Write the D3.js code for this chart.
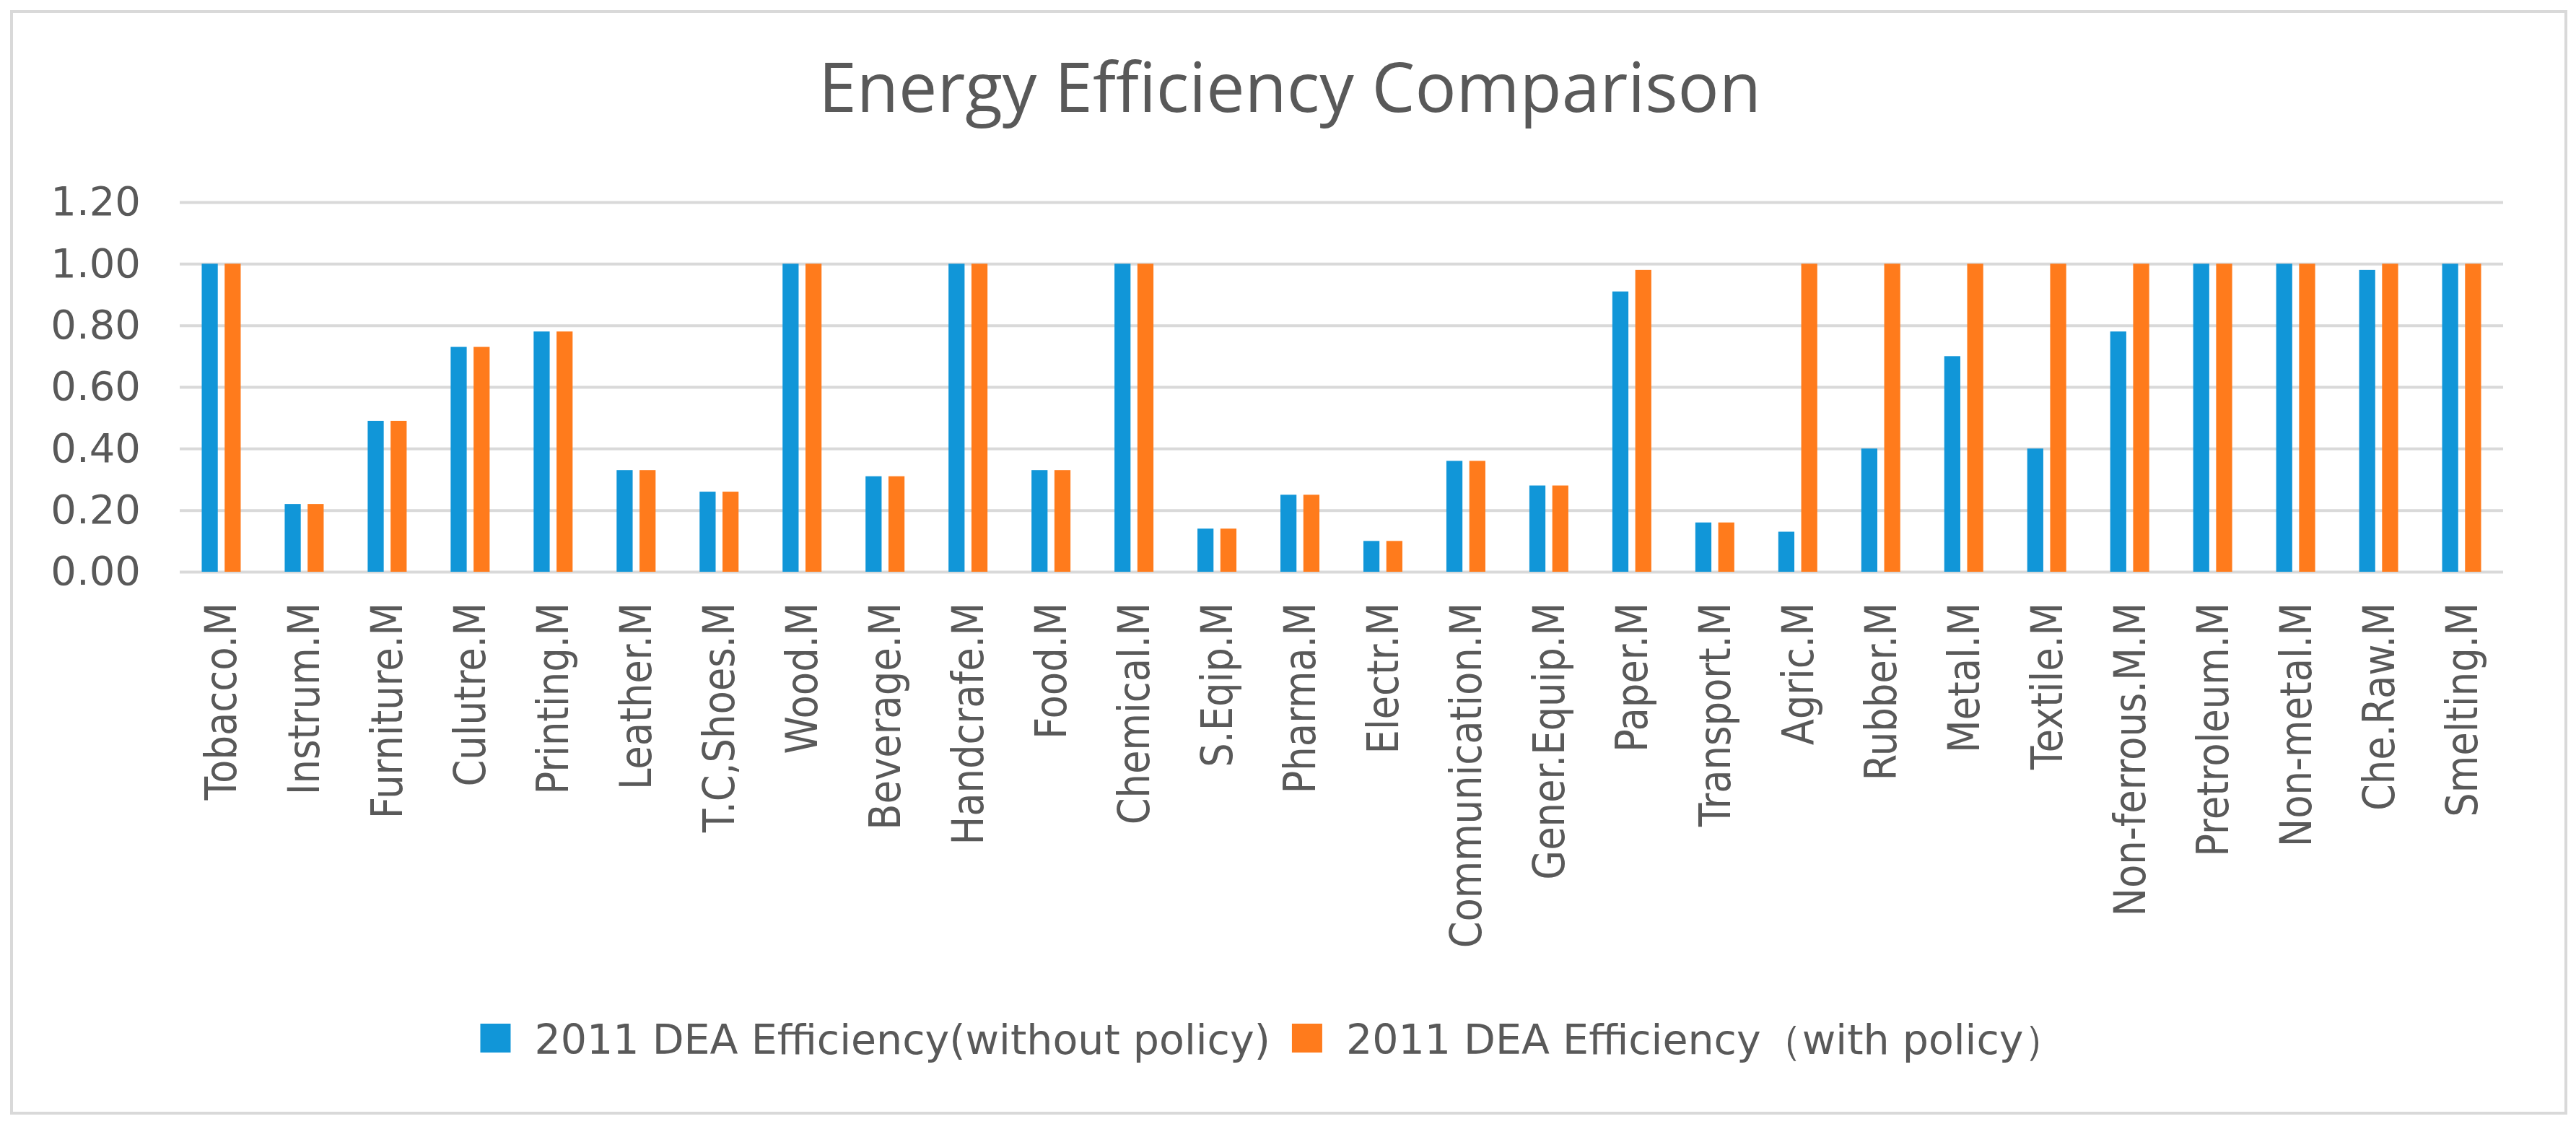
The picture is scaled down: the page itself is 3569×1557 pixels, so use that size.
<!doctype html>
<html lang="en">
   <head>
      <meta charset="utf-8">
      <title>Energy Efficiency Comparison</title>
      <script src="https://d3js.org/d3.v7.min.js"></script>
      <style>
         body { margin: 0; background: #fff; }
         text { fill: #595959; }
      </style>
   </head>
   <body>
      <svg id="chart" width="3569" height="1557"></svg>
      <script>
      const categories = ["Tobacco.M", "Instrum.M", "Furniture.M", "Culutre.M", "Printing.M", "Leather.M",
         "T.C,Shoes.M", "Wood.M", "Beverage.M", "Handcrafe.M", "Food.M", "Chemical.M", "S.Eqip.M",
         "Pharma.M", "Electr.M", "Communication.M", "Gener.Equip.M", "Paper.M", "Transport.M", "Agric.M",
         "Rubber.M", "Metal.M", "Textile.M", "Non-ferrous.M.M", "Pretroleum.M", "Non-metal.M",
         "Che.Raw.M", "Smelting.M"];

      const withoutPolicy = [1.00, 0.22, 0.49, 0.73, 0.78, 0.33, 0.26, 1.00, 0.31, 1.00, 0.33, 1.00, 0.14,
         0.25, 0.10, 0.36, 0.28, 0.91, 0.16, 0.13, 0.40, 0.70, 0.40, 0.78, 1.00, 1.00, 0.98, 1.00];

      const withPolicy = [1.00, 0.22, 0.49, 0.73, 0.78, 0.33, 0.26, 1.00, 0.31, 1.00, 0.33, 1.00, 0.14,
         0.25, 0.10, 0.36, 0.28, 0.98, 0.16, 1.00, 1.00, 1.00, 1.00, 1.00, 1.00, 1.00, 1.00, 1.00];

      const seriesNames = ["2011 DEA Efficiency(without policy)", "2011 DEA Efficiency\uFF08with policy\uFF09"];
      const seriesColors = ["#1196d8", "#ff7b1c"];
      const yTicks = [0, 0.2, 0.4, 0.6, 0.8, 1.0, 1.2];

      const svg = d3.select("#chart");
      const W = 3569, H = 1557;
      const plot = { left: 249, right: 3468, top: 280, bottom: 792 };
      const labelFont = "'DejaVu Sans', Verdana, sans-serif";

      // outer frame
      svg.append("rect")
         .attr("x", 16).attr("y", 16)
         .attr("width", 3539).attr("height", 1526)
         .attr("fill", "#fff")
         .attr("stroke", "#d9d9d9")
         .attr("stroke-width", 4);

      svg.append("text")
         .attr("x", 1787).attr("y", 155)
         .attr("text-anchor", "middle")
         .style("font-family", "'Open Sans', sans-serif")
         .style("font-size", "95px")
         .text("Energy Efficiency Comparison");

      const y = d3.scaleLinear().domain([0, 1.2]).range([plot.bottom, plot.top]);

      const x0 = d3.scaleBand().domain(categories).range([plot.left, plot.right]);
      const groupWidth = 54;
      const x1 = d3.scaleBand().domain([0, 1]).range([0, groupWidth]).paddingInner(0.3);

      // gridlines + y labels
      const yAxis = d3.axisLeft(y)
         .tickValues(yTicks)
         .tickFormat(d3.format(".2f"))
         .tickSize(-(plot.right - plot.left))
         .tickPadding(54);

      const gy = svg.append("g")
         .attr("transform", `translate(${plot.left},0)`)
         .call(yAxis);
      gy.select(".domain").remove();
      gy.selectAll(".tick line")
         .attr("stroke", "#d9d9d9")
         .attr("stroke-width", 4);
      gy.selectAll(".tick text")
         .attr("fill", "#595959")
         .style("font-family", labelFont)
         .style("font-size", "56px");

      const rows = categories.map((c, i) => ({ cat: c, vals: [withoutPolicy[i], withPolicy[i]] }));

      const groups = svg.append("g").selectAll("g")
         .data(rows)
         .enter().append("g")
         .attr("transform", d => `translate(${x0(d.cat) + (x0.bandwidth() - groupWidth) / 2},0)`);

      groups.selectAll("rect")
         .data(d => d.vals.map((v, k) => ({ k: k, v: v })))
         .enter().append("rect")
         .attr("x", d => x1(d.k))
         .attr("width", x1.bandwidth())
         .attr("y", d => y(d.v))
         .attr("height", d => y(0) - y(d.v))
         .attr("fill", d => seriesColors[d.k]);

      // rotated category labels
      svg.append("g").selectAll("text")
         .data(categories)
         .enter().append("text")
         .attr("transform", d => `translate(${x0(d) + x0.bandwidth() / 2 + 21},835) rotate(-90) scale(0.88,1)`)
         .attr("text-anchor", "end")
         .style("font-family", labelFont)
         .style("font-size", "60px")
         .text(d => d);

      // legend
      const legend = svg.append("g");
      const items = legend.selectAll("g")
         .data(seriesNames)
         .enter().append("g");
      items.append("rect")
         .attr("y", 1418)
         .attr("width", 42).attr("height", 40)
         .attr("fill", (d, i) => seriesColors[i]);
      items.append("text")
         .attr("x", 75).attr("y", 1460)
         .style("font-family", labelFont)
         .style("font-size", "57px")
         .text(d => d);

      var offset = 0;
      var widths = [];
      items.each(function() {
         widths.push(this.querySelector("text").getComputedTextLength() + 75);
      });
      const total = widths[0] + widths[1] + 30;
      var start = 1763 - total / 2;
      items.attr("transform", (d, i) => {
         const t = `translate(${start + offset},0)`;
         offset += widths[i] + 30;
         return t;
      });
      </script>
   </body>
</html>
